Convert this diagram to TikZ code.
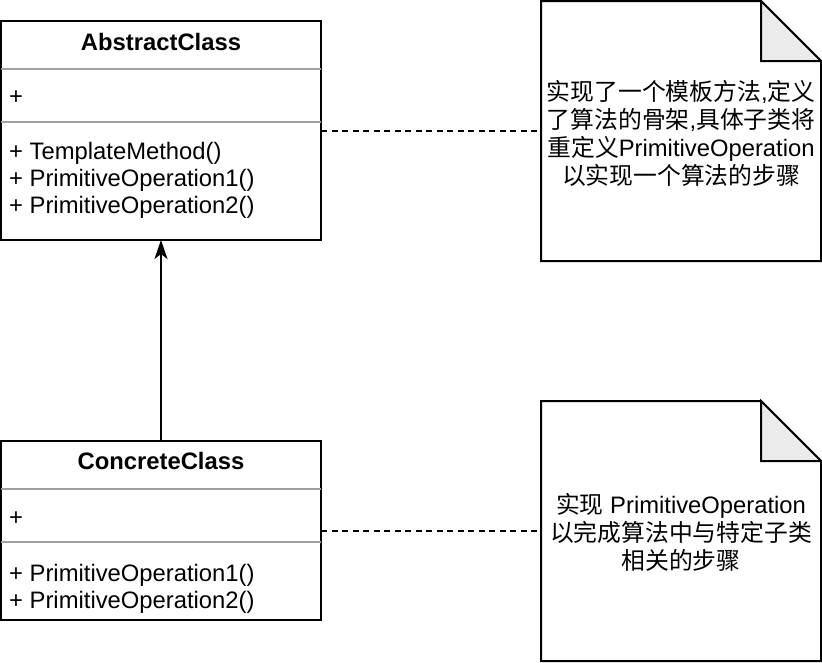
\documentclass[tikz,border=0pt]{standalone}
\usepackage{fontspec}
\setmainfont{Liberation Sans}
\newfontfamily\cjk{Noto Sans CJK SC}
\newcommand{\zh}[1]{{\cjk #1}}
\usepackage{xcolor}
\usetikzlibrary{arrows.meta,positioning,calc}
\definecolor{divgray}{HTML}{A0A0A0}
\definecolor{foldgray}{HTML}{EBEBEB}

\begin{document}
\begin{tikzpicture}[x=1pt, y=-1pt, font=\fontsize{23.8pt}{28pt}\selectfont,
    classbox/.style={draw, line width=2pt, minimum width=320pt, inner sep=0pt, outer sep=0pt},
    classtitle/.style={anchor=base, inner sep=0pt, font=\fontsize{23.8pt}{28pt}\selectfont\bfseries},
    member/.style={anchor=base west, inner sep=0pt},
    divider/.style={draw=divgray, line width=2pt},
    notebox/.style={minimum width=280pt, minimum height=260pt, inner sep=0pt, outer sep=0pt, align=center},
    noteline/.style={line width=2pt, line join=miter},
    dashline/.style={line width=2pt, dash pattern=on 6pt off 4.5pt},
    inherit/.style={line width=2pt, -{Stealth[length=19pt, width=13pt, inset=5pt]}}]
    \useasboundingbox (0,0) rectangle (822,662);

    % AbstractClass
    \node[classbox, minimum height=219pt] (abs) at (161,130.5) {};
    \node[classtitle] (absname) at (161,50) {AbstractClass};
    \draw[divider] ([yshift=-48pt]abs.north west) -- ([yshift=-48pt]abs.north east);
    \draw[divider] ([yshift=-101pt]abs.north west) -- ([yshift=-101pt]abs.north east);
    \node[member] (absattr) at (9,104) {+};
    \foreach \m [count=\i] in {TemplateMethod(), PrimitiveOperation1(), PrimitiveOperation2()}
        \node[member] (absop\i) at (9,132+27*\i) {+ \m};

    % ConcreteClass
    \node[classbox, minimum height=179pt] (con) at (161,530.5) {};
    \node[classtitle] (conname) at (161,469.5) {ConcreteClass};
    \draw[divider] ([yshift=-48pt]con.north west) -- ([yshift=-48pt]con.north east);
    \draw[divider] ([yshift=-101pt]con.north west) -- ([yshift=-101pt]con.north east);
    \node[member] (conattr) at (9,525) {+};
    \foreach \m [count=\i] in {PrimitiveOperation1(), PrimitiveOperation2()}
        \node[member] (conop\i) at (9,554+27*\i) {+ \m};

    % Inheritance
    \draw[inherit] (con.north) -- (abs.south);

    % Notes
    \node[notebox] (note1) at (681,131) {};
    \node[align=center, inner sep=0pt] (note1txt) at (681,133) {\zh{实现了一个模板方法},\zh{定义}\\\zh{了算法的骨架},\zh{具体子类将}\\\zh{重定义}PrimitiveOperation\\\zh{以实现一个算法的步骤}};
    \node[notebox] (note2) at (681,531) {};
    \node[align=center, inner sep=0pt] (note2txt) at (681,532) {\zh{实现} PrimitiveOperation\\\zh{以完成算法中与特定子类}\\\zh{相关的步骤}};
    \foreach \n in {note1, note2} {
        \draw[noteline] (\n.north west) -- ([xshift=-60pt]\n.north east) -- ([yshift=-60pt]\n.north east) -- (\n.south east) -- (\n.south west) -- cycle;
        \filldraw[noteline, fill=foldgray] ([xshift=-60pt]\n.north east) -- ([xshift=-60pt, yshift=-60pt]\n.north east) -- ([yshift=-60pt]\n.north east) -- cycle;
    }

    % Note links
    \draw[dashline] (abs.east) -- (note1.west |- abs.east);
    \draw[dashline] (con.east) -- (note2.west |- con.east);
\end{tikzpicture}
\end{document}
